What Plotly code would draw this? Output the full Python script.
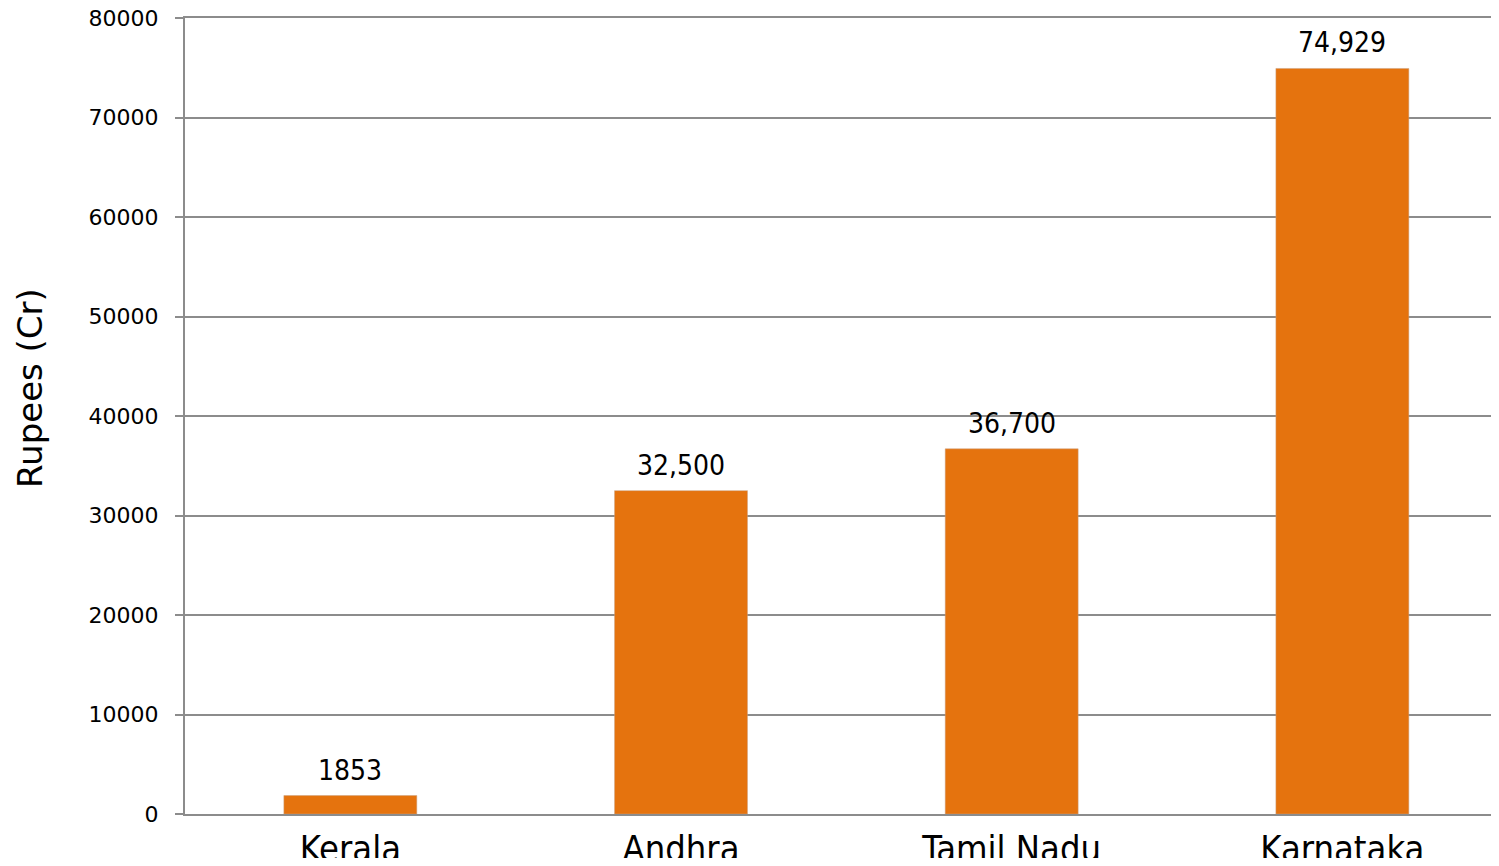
import plotly.graph_objects as go

states = ["Kerala", "Andhra", "Tamil Nadu", "Karnataka"]
values = [1853, 32500, 36700, 74929]
labels = ["1853", "32,500", "36,700", "74,929"]
yticks = [0, 10000, 20000, 30000, 40000, 50000, 60000, 70000, 80000]

COND = "DejaVu Sans Condensed, DejaVu Sans"

fig = go.Figure(go.Bar(
    x=states, y=values,
    marker=dict(color="#E5730E", line=dict(width=0.5, color="#c8a080")),
    width=0.402,
))

for s, v, t in zip(states, values, labels):
    fig.add_annotation(x=s, y=v, text=t, showarrow=False, yanchor="bottom", yshift=7,
                       font=dict(family=COND, size=28, color="black"))

fig.add_annotation(xref="paper", yref="paper", x=(30 - 185) / 1306, y=(814 - 388) / 796,
                   text="Rupees (Cr)", textangle=-90, showarrow=False,
                   xanchor="center", yanchor="middle",
                   font=dict(family="DejaVu Sans", size=34, color="black"))

fig.update_layout(
    width=1483, height=850,
    margin=dict(l=177, r=0, t=10, b=44, autoexpand=False),
    paper_bgcolor="white", plot_bgcolor="white",
    showlegend=False,
    xaxis=dict(
        range=[-0.5, 3.4495], showgrid=False, showline=True, linecolor="#8c8c8c", linewidth=2,
        mirror=True, automargin=False,
        ticks="", tickfont=dict(family=COND, size=36, color="black"),
        ticklabelstandoff=2, ticklabeloverflow="allow",
    ),
    yaxis=dict(
        range=[0, 80000], tickvals=yticks, ticktext=[str(v) for v in yticks],
        showgrid=True, gridcolor="#8c8c8c", gridwidth=1.5,
        showline=True, linecolor="#8c8c8c", linewidth=2,
        ticks="outside", ticklen=8, tickcolor="#8c8c8c", tickwidth=2,
        tickfont=dict(family="DejaVu Sans", size=22, color="black"),
        ticklabelstandoff=12, ticklabeloverflow="allow", automargin=False,
        zeroline=False,
    ),
)

fig.write_html("out.html")
